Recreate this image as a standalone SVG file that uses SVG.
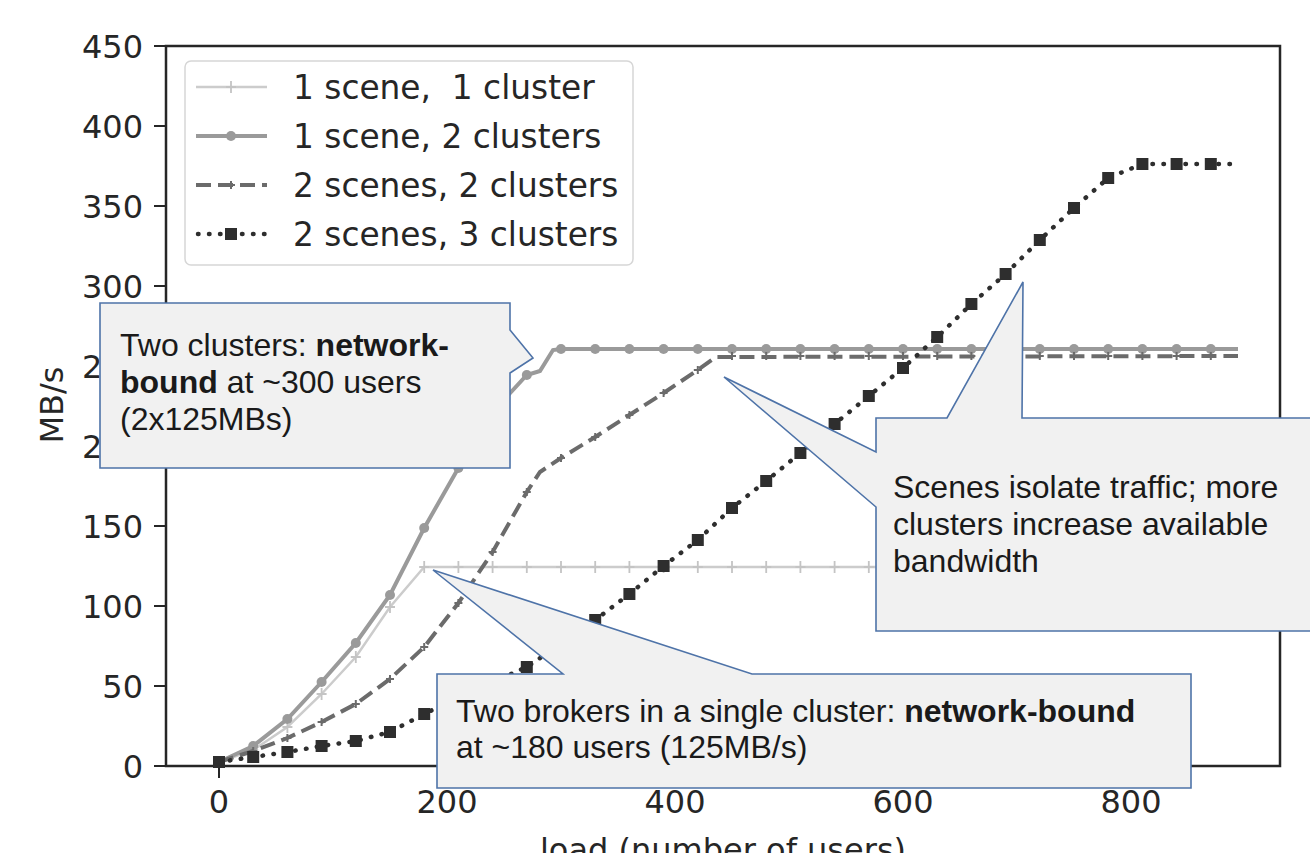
<svg xmlns="http://www.w3.org/2000/svg" xmlns:xlink="http://www.w3.org/1999/xlink" width="1310" height="853" viewBox="0 0 1310 853">
<style>
.ax{font-family:"DejaVu Sans",sans-serif;font-size:32px;fill:#262626}
.lg{font-family:"DejaVu Sans",sans-serif;font-size:32.8px;fill:#262626}
.co{font-family:"Liberation Sans",Arial,sans-serif;font-size:32px;fill:#1a1a1a}
.b{font-weight:bold}
.spine{stroke:#262626;stroke-width:2.5;fill:none}
.tick{stroke:#262626;stroke-width:2}
.s1{stroke:#cccccc;stroke-width:2.5;fill:none}
.s2{stroke:#9a9a9a;stroke-width:4;fill:none}
.s3{stroke:#6b6b6b;stroke-width:4;fill:none;stroke-dasharray:15 7}
.s4{stroke:#2e2e2e;stroke-width:4.5;fill:none;stroke-dasharray:0.5 10.5;stroke-linecap:round}
.callout{fill:#f1f1f1;stroke:#4e73a8;stroke-width:1.6}
</style>
<defs>
<path id="plus1" d="M-5,0H5M0,-6V6" stroke="#c4c4c4" stroke-width="1.8" fill="none"/>
<circle id="dot2" r="5" fill="#9a9a9a"/>
<path id="plus3" d="M-4,0H4M0,-4V4" stroke="#6b6b6b" stroke-width="2" fill="none"/>
<rect id="sq" x="-6" y="-6" width="12" height="12" fill="#2e2e2e"/>
</defs>
<rect width="1310" height="853" fill="#ffffff"/>

<g id="axes">
<rect class="spine" x="166" y="46" width="1114" height="720"/>
<g class="tick">
<line x1="154" y1="46" x2="166" y2="46"/><line x1="154" y1="126" x2="166" y2="126"/><line x1="154" y1="206" x2="166" y2="206"/><line x1="154" y1="286" x2="166" y2="286"/><line x1="154" y1="366" x2="166" y2="366"/><line x1="154" y1="446" x2="166" y2="446"/><line x1="154" y1="526" x2="166" y2="526"/><line x1="154" y1="606" x2="166" y2="606"/><line x1="154" y1="686" x2="166" y2="686"/><line x1="154" y1="766" x2="166" y2="766"/>
<line x1="219" y1="766" x2="219" y2="778"/><line x1="447" y1="766" x2="447" y2="778"/><line x1="675" y1="766" x2="675" y2="778"/><line x1="903" y1="766" x2="903" y2="778"/><line x1="1131" y1="766" x2="1131" y2="778"/>
</g>
<g class="ax" text-anchor="end">
<text x="143" y="58">450</text><text x="143" y="138">400</text><text x="143" y="218">350</text><text x="143" y="298">300</text><text x="143" y="538">150</text><text x="143" y="618">100</text><text x="143" y="698">50</text><text x="143" y="778">0</text>
</g>
<g class="ax">
<text x="82" y="378">2</text><text x="82" y="458">2</text>
</g>
<g class="ax" text-anchor="middle">
<text x="219" y="813">0</text><text x="447" y="813">200</text><text x="675" y="813">400</text><text x="903" y="813">600</text><text x="1131" y="813">800</text>
<text x="723" y="861">load (number of users)</text>
<text transform="translate(63,405) rotate(-90)">MB/s</text>
</g>
</g>

<g id="series">
<g id="s-1scene-1cluster">
<polyline class="s1" points="219,762 253.2,750 287.4,727 321.6,694 355.8,657 390,607 424.2,567 1238,567"/>
<use xlink:href="#plus1" x="219" y="762"/><use xlink:href="#plus1" x="253.2" y="750"/><use xlink:href="#plus1" x="287.4" y="727"/><use xlink:href="#plus1" x="321.6" y="694"/><use xlink:href="#plus1" x="355.8" y="657"/><use xlink:href="#plus1" x="390" y="607"/><use xlink:href="#plus1" x="424.2" y="567"/><use xlink:href="#plus1" x="458.4" y="567"/><use xlink:href="#plus1" x="492.6" y="567"/><use xlink:href="#plus1" x="526.8" y="567"/><use xlink:href="#plus1" x="561" y="567"/><use xlink:href="#plus1" x="595.2" y="567"/><use xlink:href="#plus1" x="629.4" y="567"/><use xlink:href="#plus1" x="663.6" y="567"/><use xlink:href="#plus1" x="697.8" y="567"/><use xlink:href="#plus1" x="732" y="567"/><use xlink:href="#plus1" x="766.2" y="567"/><use xlink:href="#plus1" x="800.4" y="567"/><use xlink:href="#plus1" x="834.6" y="567"/><use xlink:href="#plus1" x="868.8" y="567"/>
</g>
<g id="s-1scene-2clusters">
<polyline class="s2" points="219,762 253.2,746 287.4,719 321.6,682 355.8,643 390,595 424.2,528 458.4,468 492.6,412 526.8,375 540,371 553,350 561,349 1238,349"/>
<use xlink:href="#dot2" x="219" y="762"/><use xlink:href="#dot2" x="253.2" y="746"/><use xlink:href="#dot2" x="287.4" y="719"/><use xlink:href="#dot2" x="321.6" y="682"/><use xlink:href="#dot2" x="355.8" y="643"/><use xlink:href="#dot2" x="390" y="595"/><use xlink:href="#dot2" x="424.2" y="528"/><use xlink:href="#dot2" x="458.4" y="468"/><use xlink:href="#dot2" x="526.8" y="375"/><use xlink:href="#dot2" x="561" y="349"/><use xlink:href="#dot2" x="595.2" y="349"/><use xlink:href="#dot2" x="629.4" y="349"/><use xlink:href="#dot2" x="663.6" y="349"/><use xlink:href="#dot2" x="697.8" y="349"/><use xlink:href="#dot2" x="732" y="349"/><use xlink:href="#dot2" x="766.2" y="349"/><use xlink:href="#dot2" x="800.4" y="349"/><use xlink:href="#dot2" x="834.6" y="349"/><use xlink:href="#dot2" x="868.8" y="349"/><use xlink:href="#dot2" x="903" y="349"/><use xlink:href="#dot2" x="937.2" y="349"/><use xlink:href="#dot2" x="971.4" y="349"/><use xlink:href="#dot2" x="1005.6" y="349"/><use xlink:href="#dot2" x="1039.8" y="349"/><use xlink:href="#dot2" x="1074" y="349"/><use xlink:href="#dot2" x="1108.2" y="349"/><use xlink:href="#dot2" x="1142.4" y="349"/><use xlink:href="#dot2" x="1176.6" y="349"/><use xlink:href="#dot2" x="1210.8" y="349"/>
</g>
<g id="s-2scenes-2clusters">
<polyline class="s3" points="219,762 253.2,751 287.4,738 321.6,722 355.8,704 390,679 424.2,647 458.4,603 492.6,552 526.8,492 540,472 561,458 595.2,437 629.4,415 663.6,393 697.8,370 716,357 1238,356"/>
<use xlink:href="#plus3" x="219" y="762"/><use xlink:href="#plus3" x="253.2" y="751"/><use xlink:href="#plus3" x="287.4" y="738"/><use xlink:href="#plus3" x="321.6" y="722"/><use xlink:href="#plus3" x="355.8" y="704"/><use xlink:href="#plus3" x="390" y="679"/><use xlink:href="#plus3" x="424.2" y="647"/><use xlink:href="#plus3" x="458.4" y="603"/><use xlink:href="#plus3" x="492.6" y="552"/><use xlink:href="#plus3" x="526.8" y="492"/><use xlink:href="#plus3" x="561" y="458"/><use xlink:href="#plus3" x="595.2" y="437"/><use xlink:href="#plus3" x="629.4" y="415"/><use xlink:href="#plus3" x="663.6" y="393"/><use xlink:href="#plus3" x="697.8" y="370"/><use xlink:href="#plus3" x="732" y="356"/><use xlink:href="#plus3" x="766.2" y="356"/><use xlink:href="#plus3" x="800.4" y="356"/><use xlink:href="#plus3" x="834.6" y="356"/><use xlink:href="#plus3" x="868.8" y="356"/><use xlink:href="#plus3" x="903" y="356"/><use xlink:href="#plus3" x="937.2" y="356"/><use xlink:href="#plus3" x="971.4" y="356"/><use xlink:href="#plus3" x="1005.6" y="356"/><use xlink:href="#plus3" x="1039.8" y="356"/><use xlink:href="#plus3" x="1074" y="356"/><use xlink:href="#plus3" x="1108.2" y="356"/><use xlink:href="#plus3" x="1142.4" y="356"/><use xlink:href="#plus3" x="1176.6" y="356"/><use xlink:href="#plus3" x="1210.8" y="356"/>
</g>
<g id="s-2scenes-3clusters">
<polyline class="s4" points="219,762 253.2,757 287.4,752 321.6,746 355.8,741 390,732 424.2,714 458.4,697 492.6,682 526.8,667 561,644 595.2,620 629.4,594 663.6,566 697.8,540 732,508 766.2,481 800.4,453 834.6,424 868.8,396 903,368 937.2,337 971.4,304 1005.6,274 1039.8,240 1074,208 1108.2,178 1142.4,164 1176.6,164 1210.8,164 1238,164"/>
<use xlink:href="#sq" x="219" y="762"/><use xlink:href="#sq" x="253.2" y="757"/><use xlink:href="#sq" x="287.4" y="752"/><use xlink:href="#sq" x="321.6" y="746"/><use xlink:href="#sq" x="355.8" y="741"/><use xlink:href="#sq" x="390" y="732"/><use xlink:href="#sq" x="424.2" y="714"/><use xlink:href="#sq" x="458.4" y="697"/><use xlink:href="#sq" x="492.6" y="682"/><use xlink:href="#sq" x="526.8" y="667"/><use xlink:href="#sq" x="561" y="644"/><use xlink:href="#sq" x="595.2" y="620"/><use xlink:href="#sq" x="629.4" y="594"/><use xlink:href="#sq" x="663.6" y="566"/><use xlink:href="#sq" x="697.8" y="540"/><use xlink:href="#sq" x="732" y="508"/><use xlink:href="#sq" x="766.2" y="481"/><use xlink:href="#sq" x="800.4" y="453"/><use xlink:href="#sq" x="834.6" y="424"/><use xlink:href="#sq" x="868.8" y="396"/><use xlink:href="#sq" x="903" y="368"/><use xlink:href="#sq" x="937.2" y="337"/><use xlink:href="#sq" x="971.4" y="304"/><use xlink:href="#sq" x="1005.6" y="274"/><use xlink:href="#sq" x="1039.8" y="240"/><use xlink:href="#sq" x="1074" y="208"/><use xlink:href="#sq" x="1108.2" y="178"/><use xlink:href="#sq" x="1142.4" y="164"/><use xlink:href="#sq" x="1176.6" y="164"/><use xlink:href="#sq" x="1210.8" y="164"/>
</g>
</g>

<g id="legend">
<rect x="185" y="61" width="448" height="204" rx="6" fill="#ffffff" fill-opacity="0.85" stroke="#d6d6d6" stroke-width="1.5"/>
<line class="s1" x1="196" y1="87" x2="267" y2="87"/><use xlink:href="#plus1" x="231" y="87"/>
<line class="s2" x1="196" y1="136" x2="267" y2="136"/><use xlink:href="#dot2" x="231" y="136"/>
<line class="s3" x1="196" y1="185" x2="267" y2="185"/><use xlink:href="#plus3" x="231" y="185"/>
<line class="s4" x1="198" y1="234" x2="267" y2="234"/><use xlink:href="#sq" x="231" y="234"/>
<g class="lg">
<text x="293" y="99" xml:space="preserve" style="white-space:pre">1 scene,  1 cluster</text>
<text x="293" y="148">1 scene, 2 clusters</text>
<text x="293" y="197">2 scenes, 2 clusters</text>
<text x="293" y="246">2 scenes, 3 clusters</text>
</g>
</g>

<g id="callout-two-clusters">
<path class="callout" d="M100,303H510V330L533,358L510,373V468H100Z"/>
<text class="co" x="120" y="356">Two clusters: <tspan class="b">network-</tspan></text>
<text class="co" x="120" y="393"><tspan class="b">bound</tspan> at ~300 users</text>
<text class="co" x="120" y="430">(2x125MBs)</text>
</g>

<g id="callout-two-brokers">
<path class="callout" d="M437,674H563L433,570L752,674H1191V788H437Z"/>
<text class="co" x="456" y="722">Two brokers in a single cluster: <tspan class="b">network-bound</tspan></text>
<text class="co" x="456" y="758">at ~180 users (125MB/s)</text>
</g>

<g id="callout-scenes">
<path class="callout" d="M876,418H947L1023,282L1022,418H1320V631H876V507L724,377L876,452Z"/>
<text class="co" x="893" y="498">Scenes isolate traffic; more</text>
<text class="co" x="893" y="535">clusters increase available</text>
<text class="co" x="893" y="572">bandwidth</text>
</g>
</svg>
